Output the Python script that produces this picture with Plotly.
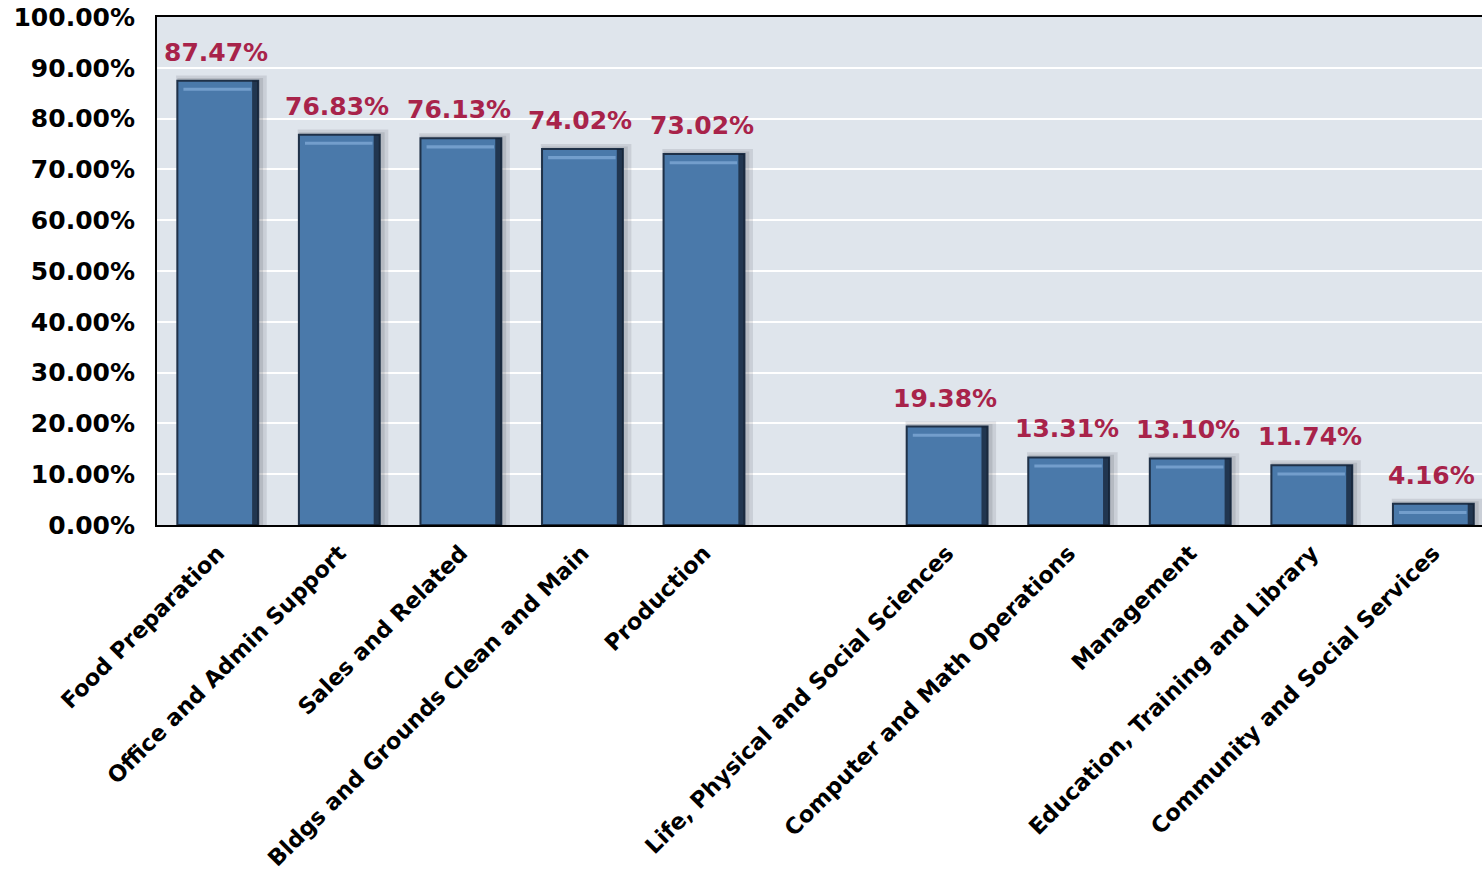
import plotly.graph_objects as go

categories = ["Food Preparation", "Office and Admin Support", "Sales and Related",
              "Bldgs and Grounds Clean and Main", "Production", " ",
              "Life, Physical and Social Sciences", "Computer and Math Operations",
              "Management", "Education, Training and Library", "Community and Social Services"]
values = [87.47, 76.83, 76.13, 74.02, 73.02, None, 19.38, 13.31, 13.10, 11.74, 4.16]
tick_vals = [0, 10, 20, 30, 40, 50, 60, 70, 80, 90, 100]
tick_text = [f"{v:.2f}%" for v in tick_vals]

FONT = "DejaVu Sans"
BAR_W = 0.665
fig = go.Figure()
# soft shadow halo behind bars
fig.add_trace(go.Bar(
    x=categories, y=[None if v is None else v + 1.0 for v in values],
    width=BAR_W + 0.08, offset=-BAR_W / 2 - 0.01,
    marker=dict(color="rgba(60,65,75,0.13)", line=dict(width=0)),
    hoverinfo="skip",
))
fig.add_trace(go.Bar(
    x=categories, y=[None if v is None else v + 0.5 for v in values],
    width=BAR_W + 0.04, offset=-BAR_W / 2,
    marker=dict(color="rgba(60,65,75,0.15)", line=dict(width=0)),
    hoverinfo="skip",
))
# main bars
fig.add_trace(go.Bar(
    x=categories, y=values, width=BAR_W, offset=-BAR_W / 2,
    marker=dict(color="#4a79aa", line=dict(color="#1f3148", width=2)),
    hoverinfo="skip",
))
# dark right edge
fig.add_trace(go.Bar(
    x=categories, y=values, width=0.05, offset=BAR_W / 2 - 0.05,
    marker=dict(color="rgba(20,32,50,0.75)", line=dict(width=0)),
    hoverinfo="skip",
))
# top bevel highlight
fig.add_trace(go.Bar(
    x=categories, y=[None if v is None else 0.6 for v in values],
    base=[None if v is None else v - 2.0 for v in values],
    width=BAR_W - 0.11, offset=-BAR_W / 2 + 0.05,
    marker=dict(color="rgba(125,168,212,0.8)", line=dict(width=0)),
    hoverinfo="skip",
))
for c, v in zip(categories, values):
    if v is None:
        continue
    fig.add_annotation(x=c, y=v, text=f"{v:.2f}%", showarrow=False,
                       yanchor="bottom", yshift=12, xshift=-2,
                       font=dict(family=FONT, size=25, color="#a8234a", weight="bold"))

fig.update_layout(
    width=1482, height=874,
    margin=dict(l=157, r=0, t=17, b=349),
    paper_bgcolor="white", plot_bgcolor="#dfe5ec",
    showlegend=False, barmode="overlay",
    font=dict(family=FONT, color="black"),
)
fig.update_xaxes(type="category", range=[-0.5, 10.4], tickangle=-45,
                 showline=True, linecolor="black", linewidth=2, mirror=True,
                 ticks="", showgrid=False, ticklabelstandoff=4, automargin=False,
                 tickfont=dict(family=FONT, size=22.5, color="black", weight="bold"))
fig.update_yaxes(range=[0, 100], tickvals=tick_vals, ticktext=tick_text,
                 showline=True, linecolor="black", linewidth=2,
                 gridcolor="white", gridwidth=2, zeroline=False, ticks="",
                 ticklabelstandoff=15, ticklabeloverflow="allow", automargin=False,
                 tickfont=dict(family=FONT, size=25, color="black", weight="bold"))
fig.write_html("out.html",
               config={"displayModeBar": False, "staticPlot": True},
               post_script="document.body.style.margin='0';document.body.style.overflow='hidden';")
